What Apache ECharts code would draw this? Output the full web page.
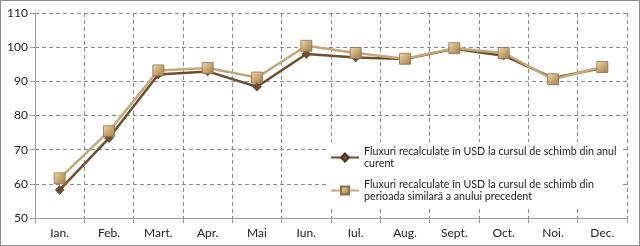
<!DOCTYPE html>
<html>
<head>
<meta charset="utf-8">
<script src="https://cdn.jsdelivr.net/npm/echarts@6/dist/echarts.min.js"></script>
<style>
  html, body { margin: 0; padding: 0; background: #fff; }
  #chart { width: 638px; height: 244px; border: 1px solid #8c8c8c; }
</style>
</head>
<body>
<div id="chart"></div>
<script>
const months = ['Ian.', 'Feb.', 'Mart.', 'Apr.', 'Mai', 'Iun.', 'Iul.', 'Aug.', 'Sept.', 'Oct.', 'Noi.', 'Dec.'];
const curentName = 'Fluxuri recalculate în USD la cursul de schimb din anul curent';
const precedentName = 'Fluxuri recalculate în USD la cursul de schimb din perioada similară a anului precedent';
const curentValues = [58.2, 73.4, 92.0, 92.9, 88.4, 98.0, 97.0, 96.5, 99.5, 97.5, 91.0, 93.9];
const precedentValues = [61.6, 75.4, 93.2, 93.9, 91.1, 100.4, 98.3, 96.6, 99.7, 98.3, 90.6, 94.2];

const labels = {};
labels[curentName] = 'Fluxuri recalculate în USD la cursul de schimb din anul\ncurent';
labels[precedentName] = 'Fluxuri recalculate în USD la cursul de schimb din\nperioada similară a anului precedent';

const font = 'Lato';
const chart = echarts.init(document.getElementById('chart'));
chart.setOption({
  animation: false,
  textStyle: { fontFamily: font },
  grid: { left: 34, right: 12, top: 12, bottom: 27 },
  legend: {
    orient: 'vertical',
    left: 325,
    top: 141,
    itemWidth: 28,
    itemHeight: 10,
    itemGap: 8,
    padding: [3, 4, 3, 4],
    backgroundColor: '#fff',
    formatter: n => labels[n],
    textStyle: { fontFamily: font, fontSize: 10.7, color: '#222', lineHeight: 12.5 },
    data: [curentName, precedentName]
  },
  xAxis: {
    type: 'category',
    data: months,
    boundaryGap: true,
    axisLine: { lineStyle: { color: '#999', width: 1 } },
    axisTick: { show: true, length: 5, lineStyle: { color: '#999' } },
    axisLabel: { color: '#222', fontSize: 12, fontFamily: font, margin: 9 },
    splitLine: { show: true, lineStyle: { color: '#8a8a8a', type: [4, 3] } }
  },
  yAxis: {
    type: 'value',
    min: 50,
    max: 110,
    interval: 10,
    axisLine: { show: true, lineStyle: { color: '#999' } },
    axisTick: { show: true, length: 5, lineStyle: { color: '#999' } },
    axisLabel: { color: '#222', fontSize: 12, fontFamily: font, margin: 7 },
    splitLine: { show: true, lineStyle: { color: '#8a8a8a', type: [4, 3] } }
  },
  series: [
    {
      name: curentName,
      type: 'line',
      data: curentValues,
      symbol: 'diamond',
      symbolSize: 9,
      z: 2,
      lineStyle: { color: '#6e4e2e', width: 2.5 },
      itemStyle: { color: '#6e4e2e', borderColor: '#4e3520', borderWidth: 0.5 }
    },
    {
      name: precedentName,
      type: 'line',
      data: precedentValues,
      symbol: 'rect',
      symbolSize: 11,
      z: 3,
      lineStyle: { color: '#c4a77a', width: 2.5 },
      itemStyle: {
        color: new echarts.graphic.LinearGradient(0, 0, 1, 1, [
          { offset: 0, color: '#f0dfb8' },
          { offset: 0.5, color: '#c9a873' },
          { offset: 1, color: '#9c7c4c' }
        ]),
        borderColor: '#8c7048',
        borderWidth: 0.8
      }
    }
  ]
});
</script>
</body>
</html>
